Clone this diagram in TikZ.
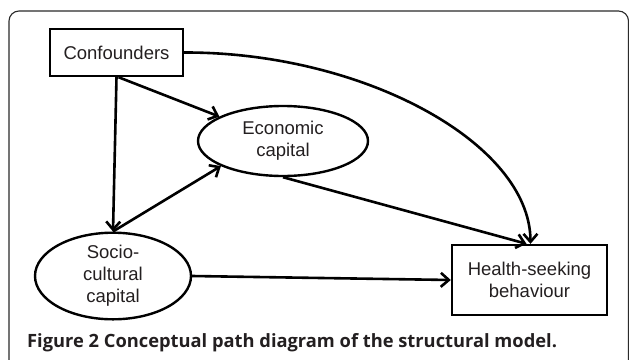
\documentclass[tikz,border=0pt]{standalone}
\usepackage{fontspec}
\setmainfont{Liberation Sans}
\newfontfamily\capfont{Open Sans}
\usetikzlibrary{arrows.meta,shapes.geometric}
\definecolor{txt}{HTML}{231F20}
\definecolor{frame}{HTML}{2A2A2A}
\begin{document}
\begin{tikzpicture}[x=1pt,y=-1pt,
  box/.style={draw=black,line width=2.4pt,rectangle,inner sep=0pt,align=center,
    font=\fontsize{18.5}{22.5}\selectfont,text=txt},
  oval/.style={draw=black,line width=2.4pt,ellipse,inner sep=0pt,align=center,
    font=\fontsize{18.5}{22}\selectfont,text=txt},
  link/.style={line width=2.6pt,-{Straight Barb[length=8pt,width=14pt,line width=2.6pt]}}]
\useasboundingbox (0,0) rectangle (629,359);
\draw[frame,line width=1.1pt,rounded corners=10pt] (9,380) -- (9,11) -- (628.5,11) -- (628.5,380);
\node[box,minimum width=133pt,minimum height=47pt] (conf) at (116.5,52.5) {Confounders};
\node[oval,minimum width=170pt,minimum height=70pt] (econ) at (283,141) {Economic\\capital};
\node[oval,minimum width=156pt,minimum height=78pt] (socio) at (113,276) {Socio-\\cultural\\capital};
\node[box,minimum width=155pt,minimum height=70pt] (health) at (529.5,280) {Health-seeking\\behaviour};
\node[anchor=base west,inner sep=0pt,text=txt,font=\capfont\bfseries\fontsize{18.3}{22}\selectfont] (cap) at (27,347) {Figure 2 Conceptual path diagram of the structural model.};
\draw[link] (conf.south) -- (socio.north);
\draw[link] ([xshift=2pt]conf.south) -- (econ.159);
\draw[link] (socio.north) -- (econ.202);
\draw[link] (econ.south) -- ([xshift=-3pt]health.north);
\draw[link] (conf.east) .. controls (363,52) and (530,143) .. ([xshift=1pt]health.north);
\draw[link] (socio.east) -- (health.west);
\end{tikzpicture}
\end{document}
